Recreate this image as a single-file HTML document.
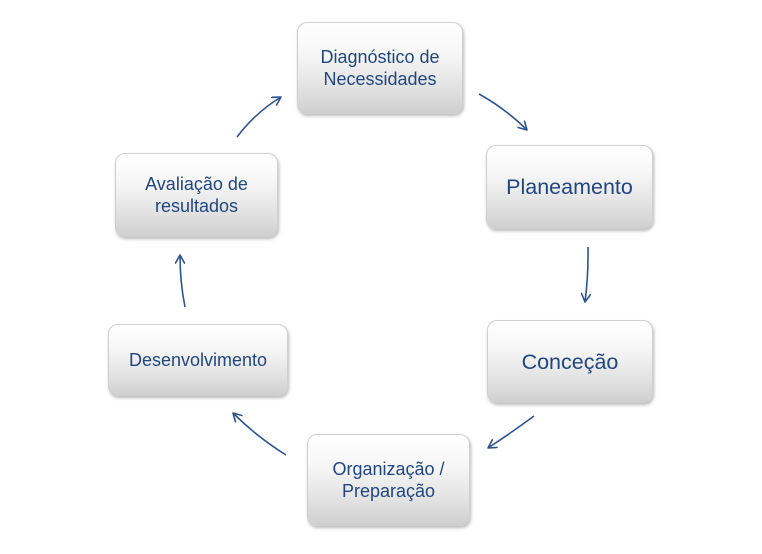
<!DOCTYPE html>
<html>
<head>
<meta charset="utf-8">
<style>
  html,body{margin:0;padding:0;background:#fff;}
  body{width:762px;height:554px;position:relative;overflow:hidden;
    font-family:"Liberation Sans",sans-serif;}
  .box{position:absolute;box-sizing:border-box;border:1px solid #cfcfcf;border-radius:10px;
    background:linear-gradient(to bottom,#ffffff 0%,#f6f6f6 35%,#e0e0e0 75%,#cfcfcf 100%);
    box-shadow:1px 2px 3px rgba(0,0,0,0.28);
    display:flex;align-items:center;justify-content:center;text-align:center;
    color:#1f4680;font-size:18px;line-height:22px;}
  .big{font-size:21.5px;}
  svg{position:absolute;left:0;top:0;}
</style>
</head>
<body>
<div class="box" style="left:297px;top:22px;width:166px;height:92px;">Diagnóstico de<br>Necessidades</div>
<div class="box big" style="left:486px;top:145px;width:167px;height:84px;">Planeamento</div>
<div class="box big" style="left:487px;top:320px;width:166px;height:83px;">Conceção</div>
<div class="box" style="left:307px;top:434px;width:163px;height:92px;">Organização /<br>Preparação</div>
<div class="box" style="left:108px;top:324px;width:180px;height:72px;">Desenvolvimento</div>
<div class="box" style="left:115px;top:153px;width:163px;height:84px;">Avaliação de<br>resultados</div>

<svg width="762" height="554" viewBox="0 0 762 554">
  <defs>
    <marker id="ah" markerUnits="userSpaceOnUse" markerWidth="14" markerHeight="14" refX="9" refY="5" orient="auto">
      <path d="M1,0.5 L9,5 L1,9.5" fill="none" stroke="#2c5491" stroke-width="1.6" stroke-linecap="round" stroke-linejoin="round"/>
    </marker>
  </defs>
  <g fill="none" stroke="#2c5491" stroke-width="1.6" marker-end="url(#ah)">
    <path d="M237,137 Q255,113 281,97"/>
    <path d="M479,94 Q506,109 527,130"/>
    <path d="M588,247 Q588.5,275 585,302"/>
    <path d="M534,416 Q511,433 488,448"/>
    <path d="M286,455 Q257,437 233,413"/>
    <path d="M185,307 Q180,282 180,255"/>
  </g>
</svg>
</body>
</html>
